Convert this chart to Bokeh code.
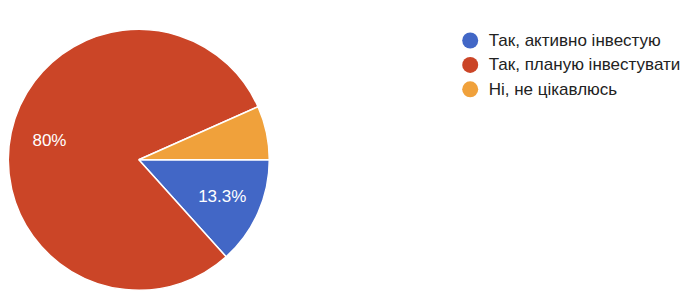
import math
from bokeh.plotting import figure
from bokeh.models import Range1d, ColumnDataSource
from bokeh.core.properties import value
from bokeh.embed import file_html
from bokeh.resources import INLINE

categories = ["Так, активно інвестую", "Так, планую інвестувати", "Ні, не цікавлюсь"]
counts = [2, 12, 1]
percent_labels = ["13.3%", "80%", ""]
colors = ["#4267c6", "#cb4527", "#f0a13b"]

W, H = 694, 302
cx, cy, R = 138.3, H - 159.3, 130.5

total = sum(counts)
starts, ends, lx, ly = [], [], [], []
acc = 0.0
for c in counts:
    a0 = acc / total * 2 * math.pi
    acc += c
    a1 = acc / total * 2 * math.pi
    starts.append(-a0)
    ends.append(-a1)
    mid = -(a0 + a1) / 2
    lx.append(cx + 0.7 * R * math.cos(mid))
    ly.append(cy + 0.7 * R * math.sin(mid))

p = figure(width=W, height=H, x_range=Range1d(0, W), y_range=Range1d(0, H),
           x_axis_type=None, y_axis_type=None, toolbar_location=None,
           output_backend="svg", min_border=0)
p.outline_line_color = None
p.grid.visible = False
p.background_fill_color = "white"
p.border_fill_color = "white"

src = ColumnDataSource(dict(start=starts, end=ends, color=colors, lx=lx, ly=ly,
                            lab=percent_labels, cat=categories))
p.wedge(x=cx, y=cy, radius=R, start_angle="start", end_angle="end",
        direction="clock", fill_color="color", line_color="white",
        line_width=1.5, source=src)
p.text(x="lx", y="ly", text="lab", source=src, text_color="white",
       text_font=value("Liberation Sans"), text_font_size="17px",
       text_align="center", text_baseline="middle")

# legend
leg_x, leg_y0, leg_dy = 469.7, H - 40.0, 24.4
lgx = [leg_x] * len(categories)
lgy = [leg_y0 - i * leg_dy for i in range(len(categories))]
lsrc = ColumnDataSource(dict(x=lgx, y=lgy, tx=[leg_x + 18.5] * len(categories),
                             color=colors, cat=categories))
p.scatter(x="x", y="y", size=16, marker="circle", fill_color="color",
          line_color=None, source=lsrc)
p.text(x="tx", y="y", text="cat", source=lsrc, text_color="#222222",
       text_font=value("Liberation Sans"), text_font_size="17px",
       text_align="left", text_baseline="middle")

open("out.html", "w").write(file_html(p, INLINE))
